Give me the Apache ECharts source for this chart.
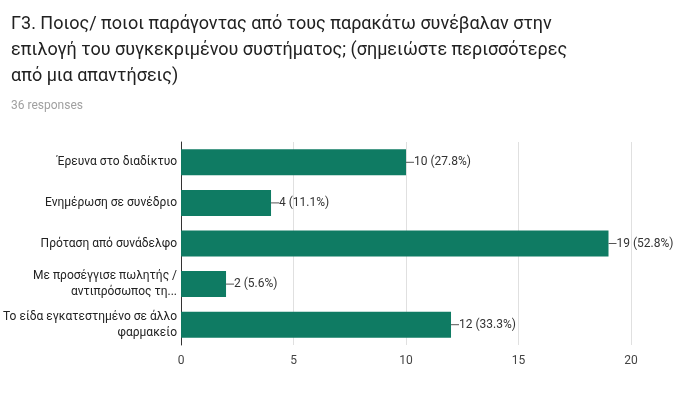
<!DOCTYPE html>
<html><head><meta charset="utf-8">
<script src="https://cdn.jsdelivr.net/npm/echarts@6/dist/echarts.min.js"></script>
<style>body{margin:0}#c{width:697px;height:411px}</style></head>
<body><div id="c"></div>
<script>
const categories = ["Έρευνα στο διαδίκτυο","Ενημέρωση σε συνέδριο","Πρόταση από συνάδελφο","Με προσέγγισε πωλητής /\nαντιπρόσωπος τη...","Το είδα εγκατεστημένο σε άλλο\nφαρμακείο"];
const counts = [10,4,19,2,12];
const percents = ["27.8%","11.1%","52.8%","5.6%","33.3%"];
const xTicks = [0,5,10,15,20];
const chart = echarts.init(document.getElementById('c'));
chart.setOption({
  animation:false,
  textStyle:{fontFamily:'Roboto, Arial, sans-serif'},
  title:[{text:'Γ3. Ποιος/ ποιοι παράγοντας από τους παρακάτω συνέβαλαν στην\nεπιλογή του συγκεκριμένου συστήματος; (σημειώστε περισσότερες\nαπό μια απαντήσεις)',left:6,top:6,textStyle:{fontSize:18,fontWeight:'normal',color:'#212121',lineHeight:26,fontFamily:'Roboto, Arial, sans-serif'}},
    {text:'36 responses',left:6,top:95,textStyle:{fontSize:12,fontWeight:'normal',color:'#a0a0a0',fontFamily:'Roboto, Arial, sans-serif'}}],
  grid:{left:181,right:66,top:142,bottom:66,containLabel:false},
  xAxis:{type:'value',min:0,max:20,interval:5,axisLine:{show:false},axisTick:{show:false},
    axisLabel:{color:'#444',fontSize:12,margin:10,formatter:v=>xTicks.includes(v)?String(v):''},
    splitLine:{lineStyle:{color:'#e0e0e0'}}},
  yAxis:{type:'category',inverse:true,data:categories,axisLine:{lineStyle:{color:'#333'}},axisTick:{show:false},
    axisLabel:{color:'#222',fontSize:12,align:'right',lineHeight:16,margin:4}},
  series:[{type:'bar',data:counts,barWidth:26,itemStyle:{color:'#0f7b63'},
    label:{show:true,position:'right',distance:0,color:'#333',fontSize:12,
      formatter:p=>'{l|}'+p.value+' ('+percents[p.dataIndex]+')',
      rich:{l:{width:8,height:1,backgroundColor:'#555',padding:0}}}}]
});
</script></body></html>
